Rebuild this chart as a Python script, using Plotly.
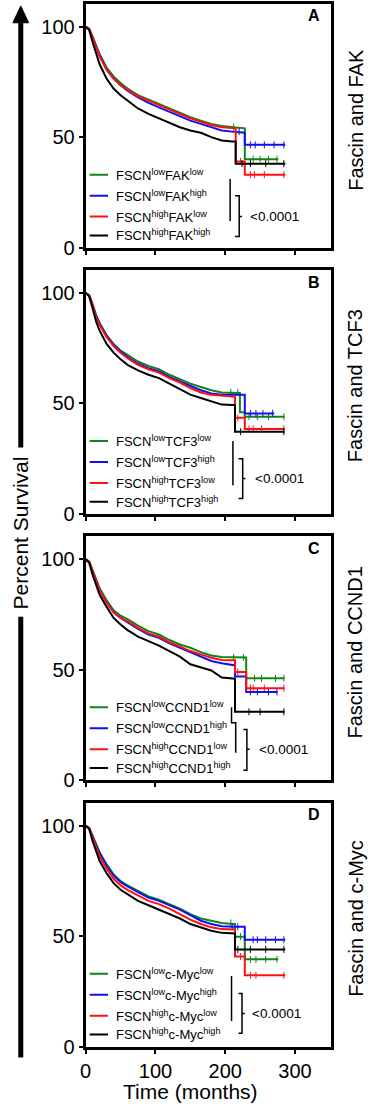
import plotly.graph_objects as go

# ---------------- data ----------------
t_grid = [0, 5, 10, 15, 20, 30, 40, 50, 60, 75, 90, 105, 120, 135, 150, 165, 180, 195, 210]

panel_letters = ["A", "B", "C", "D"]
panel_titles = ["Fascin and FAK", "Fascin and TCF3", "Fascin and CCND1", "Fascin and c-Myc"]
partner_genes = ["FAK", "TCF3", "CCND1", "c-Myc"]
group_keys = ["green", "blue", "red", "black"]
group_fscn = ["low", "low", "high", "high"]
group_partner = ["low", "high", "low", "high"]
p_value_text = "<0.0001"
x_ticks = [0, 100, 200, 300]
y_ticks = [0, 50, 100]
x_title = "Time (months)"
y_title = "Percent Survival"

# Panel A
a_green_t = t_grid + [228, 228, 276]
a_green_s = [100, 99, 95.5, 91, 87.5, 81.5, 77.5, 74.5, 72, 69, 67, 65, 63, 61, 59, 57.5, 56, 55, 54.5, 54, 40, 40]
a_blue_t = t_grid + [228, 228, 286]
a_blue_s = [100, 99, 95, 90.5, 87, 80.5, 76.5, 73.5, 71, 68, 65.5, 63.5, 61.5, 59.5, 57.5, 56, 54.5, 53, 52.5, 52, 46.5, 46.5]
a_red_t = t_grid + [215, 215, 228, 228, 286]
a_red_s = [100, 99, 95, 90.5, 86.5, 80.5, 76.5, 73.5, 71.5, 68.5, 66.5, 64.5, 62.5, 60.5, 58.5, 57, 55.5, 54.5, 54, 54, 39, 39, 33, 33]
a_black_t = t_grid + [215, 215, 286]
a_black_s = [100, 98.5, 93, 87.5, 83, 76.5, 72, 69, 66.5, 63, 60.5, 58.5, 56.5, 54.5, 53, 52, 50, 48.5, 48, 48, 38, 38]
a_green_cens = [212, 240, 250, 262, 274]
a_blue_cens = [220, 236, 243, 256, 270, 284]
a_red_cens = [222, 236, 242, 256, 284]
a_black_cens = [224, 236, 258, 284]

# Panel B
b_green_t = t_grid + [221, 221, 228, 228, 285]
b_green_s = [100, 99, 95, 90, 86.5, 81, 77, 74, 72, 69, 67, 65.5, 63, 61, 59, 57.5, 56, 55, 55, 54.8, 46, 46, 44, 44]
b_blue_t = t_grid + [228, 228, 270]
b_blue_s = [100, 99, 94.5, 89.5, 86, 80.5, 76.5, 73.5, 71, 68, 66, 64.5, 62, 60, 58, 56, 54.5, 54, 54, 54, 45.5, 45.5]
b_red_t = t_grid + [214, 214, 228, 228, 285]
b_red_s = [100, 99, 94.5, 89, 85.5, 80, 76, 73, 70.5, 67.5, 65.5, 64, 61.5, 59.5, 57, 55, 54, 53.5, 53, 53, 43.5, 43.5, 38.5, 38.5]
b_black_t = t_grid + [214, 214, 285]
b_black_s = [100, 98.5, 93, 87, 83, 77, 73, 70, 67.5, 65, 63, 61.5, 59, 56.5, 54, 52.5, 51, 49.5, 49.3, 49.3, 37.2, 37.2]
b_green_cens = [208, 218, 234, 246, 262, 284]
b_blue_cens = [236, 244, 254, 268]
b_red_cens = [218, 234, 240, 252, 284]
b_black_cens = [222, 284]

# Panel C
c_green_t = t_grid + [230, 230, 285]
c_green_s = [100, 99, 95, 91, 87, 81.5, 77, 74.5, 73, 70, 67.5, 66, 63.5, 61.5, 60, 58, 56.5, 55.8, 55.6, 55.6, 46.2, 46.2]
c_blue_t = t_grid + [214, 214, 230, 230, 275]
c_blue_s = [100, 99, 94.5, 90, 86, 80.5, 76, 73.5, 71.5, 68.5, 66, 64.5, 62, 60, 58, 56, 54, 53, 52, 52, 47, 47, 40, 40]
c_red_t = t_grid + [214, 214, 230, 230, 285]
c_red_s = [100, 99, 94.5, 90, 86, 80.5, 76, 73.5, 72, 69, 66.5, 65, 62.5, 60.5, 58.5, 57, 55.5, 54.5, 54.3, 54.3, 49, 49, 41.7, 41.7]
c_black_t = t_grid + [214, 214, 285]
c_black_s = [100, 98.5, 93, 88, 84, 78.5, 73.5, 70.5, 68, 65, 63, 61, 58.5, 56, 52.5, 51, 49.7, 46.5, 46, 46, 31, 31]
c_green_cens = [212, 226, 242, 252, 272, 284]
c_blue_cens = [236, 246, 262, 274]
c_red_cens = [218, 236, 240, 256, 284]
c_black_cens = [234, 250, 284]

# Panel D
d_green_t = t_grid + [214, 214, 228, 228, 276]
d_green_s = [100, 99, 95.5, 91.5, 88, 82.5, 78, 75, 73, 70.5, 68, 66.5, 64.5, 62.5, 60, 58, 57, 56, 55.5, 55.5, 49.8, 49.8, 39.5, 39.5]
d_blue_t = t_grid + [228, 228, 286]
d_blue_s = [100, 99, 95, 91, 87.5, 82, 77.5, 74.5, 72.5, 70, 67.5, 66, 64, 62, 59.5, 57, 55.5, 54.5, 54.3, 54.3, 48.4, 48.4]
d_red_t = t_grid + [214, 214, 228, 228, 286]
d_red_s = [100, 99, 94.5, 90, 86, 80.5, 76, 73, 71, 68.5, 66, 64.5, 62.5, 60, 57.5, 55.5, 54, 53.2, 53, 53, 40.8, 40.8, 32.3, 32.3]
d_black_t = t_grid + [214, 214, 286]
d_black_s = [100, 98.5, 93, 88, 84, 78.5, 74, 71, 69, 66, 64, 62, 60, 58, 55.5, 54, 52.5, 51.5, 51.2, 51.2, 44, 44]
d_green_cens = [208, 222, 236, 244, 258, 274]
d_blue_cens = [210, 218, 240, 246, 258, 272, 284]
d_red_cens = [222, 236, 244, 284]
d_black_cens = [218, 236, 258, 284]

series_t = [
    [a_green_t, a_blue_t, a_red_t, a_black_t],
    [b_green_t, b_blue_t, b_red_t, b_black_t],
    [c_green_t, c_blue_t, c_red_t, c_black_t],
    [d_green_t, d_blue_t, d_red_t, d_black_t],
]
series_s = [
    [a_green_s, a_blue_s, a_red_s, a_black_s],
    [b_green_s, b_blue_s, b_red_s, b_black_s],
    [c_green_s, c_blue_s, c_red_s, c_black_s],
    [d_green_s, d_blue_s, d_red_s, d_black_s],
]
series_cens = [
    [a_green_cens, a_blue_cens, a_red_cens, a_black_cens],
    [b_green_cens, b_blue_cens, b_red_cens, b_black_cens],
    [c_green_cens, c_blue_cens, c_red_cens, c_black_cens],
    [d_green_cens, d_blue_cens, d_red_cens, d_black_cens],
]

# ---------------- styles / layout ----------------
W, H = 368, 1116
FONT = "Arial, Liberation Sans, Helvetica, sans-serif"
colors = {"green": "#13821a", "blue": "#1010f0", "red": "#ff1010", "black": "#000000"}

axis_px = [250, 519, 788, 1057]      # pixel row of y=0 for each panel
Y_RANGE = [0, 110.5]
PX_PER_UNIT = 2.23
X_RANGE = [0, 351]
X_LEFT, X_RIGHT = 81, 330

legend_rows = [33, 23.5, 14, 5.5]
legend_line_x = [5.7, 32]
legend_text_x = 41

# bracket geometry per panel (data coords)
bracket_line = [
    [(207, 31), (207, 12)],
    [(211, 33), (211, 13)],
    [(209, 33), (209, 26), (215, 26), (215, 12.5)],
    [(209, 32), (209, 11.6)],
]
brace = [  # x0, x1, top, bottom, mid, tip, text_x
    (214, 220, 23.5, 5, 14, 224, 233),
    (219, 225, 25, 7, 16, 229, 240),
    (226, 231, 23, 4.5, 14, 235, 245),
    (219, 224, 24, 6, 15, 228, 235),
]


def px_x(p):
    return p / W


def px_y(p):
    return 1 - p / H


def surv_at(ts, ss, c):
    val = ss[0]
    for tt, vv in zip(ts, ss):
        if tt <= c:
            val = vv
    return val


fig = go.Figure()
shapes = []
annotations = []

for i in range(4):
    sfx = "" if i == 0 else str(i + 1)
    xa, ya = "x" + sfx, "y" + sfx
    bottom_px = axis_px[i]
    top_px = bottom_px - (Y_RANGE[1] - Y_RANGE[0]) * PX_PER_UNIT

    for k, key in enumerate(group_keys):
        ts, ss = series_t[i][k], series_s[i][k]
        fig.add_trace(go.Scatter(
            x=ts, y=ss, mode="lines", xaxis=xa, yaxis=ya,
            line=dict(color=colors[key], width=2), showlegend=False, hoverinfo="skip"))
        cens = series_cens[i][k]
        fig.add_trace(go.Scatter(
            x=cens, y=[surv_at(ts, ss, c) for c in cens], mode="markers",
            xaxis=xa, yaxis=ya, showlegend=False, hoverinfo="skip",
            marker=dict(symbol="line-ns", size=5, line=dict(color=colors[key], width=1))))

    axis_common = dict(showline=True, linecolor="black", linewidth=3, mirror=True,
                       showgrid=False, zeroline=False, ticks="outside", ticklen=4,
                       tickwidth=2, tickcolor="black",
                       tickfont=dict(family=FONT, size=20, color="black"))
    fig.layout["xaxis" + sfx] = dict(
        domain=[px_x(X_LEFT), px_x(X_RIGHT)], range=X_RANGE, anchor=ya,
        tickvals=x_ticks, showticklabels=(i == 3), **axis_common)
    fig.layout["yaxis" + sfx] = dict(
        domain=[px_y(bottom_px), px_y(top_px)], range=Y_RANGE, anchor=xa,
        tickvals=y_ticks, **axis_common)

    # legend
    for k, key in enumerate(group_keys):
        shapes.append(dict(type="line", xref=xa, yref=ya,
                           x0=legend_line_x[0], x1=legend_line_x[1],
                           y0=legend_rows[k], y1=legend_rows[k],
                           line=dict(color=colors[key], width=2)))
        label = "FSCN<sup>%s</sup>%s<sup>%s</sup>" % (group_fscn[k], partner_genes[i], group_partner[k])
        annotations.append(dict(xref=xa, yref=ya, x=legend_text_x, y=legend_rows[k],
                                text=label, showarrow=False, xanchor="left", yanchor="middle",
                                font=dict(family=FONT, size=13, color="black")))
    # brackets
    pts = bracket_line[i]
    path = "M " + " L ".join("%g,%g" % p for p in pts)
    shapes.append(dict(type="path", xref=xa, yref=ya, path=path,
                       line=dict(color="black", width=1.5)))
    x0, x1, top, bot, mid, tip, tx = brace[i]
    path2 = "M %g,%g L %g,%g L %g,%g L %g,%g M %g,%g L %g,%g" % (
        x0, top, x1, top, x1, bot, x0, bot, x1, mid, tip, mid)
    shapes.append(dict(type="path", xref=xa, yref=ya, path=path2,
                       line=dict(color="black", width=1.5)))
    annotations.append(dict(xref=xa, yref=ya, x=tx, y=mid, text=p_value_text,
                            showarrow=False, xanchor="left", yanchor="middle",
                            font=dict(family=FONT, size=13.5, color="black")))
    # panel letter
    annotations.append(dict(xref="paper", yref="paper", x=px_x(313), y=px_y(top_px + 12.5),
                            text="<b>%s</b>" % panel_letters[i], showarrow=False,
                            xanchor="center", yanchor="middle",
                            font=dict(family=FONT, size=16, color="black")))
    # right title
    annotations.append(dict(xref="paper", yref="paper", x=px_x(355),
                            y=px_y((top_px + bottom_px) / 2 - 6),
                            text=panel_titles[i], textangle=-90, showarrow=False,
                            xanchor="center", yanchor="middle",
                            font=dict(family=FONT, size=20, color="black")))

# x title
annotations.append(dict(xref="paper", yref="paper", x=px_x(188), y=px_y(1102),
                        text=x_title, showarrow=False, xanchor="center", yanchor="middle",
                        font=dict(family=FONT, size=21, color="black")))
# y title with big arrow
annotations.append(dict(xref="paper", yref="paper", x=px_x(15), y=px_y(538),
                        text=y_title, textangle=-90, showarrow=False,
                        xanchor="center", yanchor="middle",
                        font=dict(family=FONT, size=21, color="black")))
for (ya0, ya1) in [(20, 452), (623, 1068)]:
    shapes.append(dict(type="line", xref="paper", yref="paper",
                       x0=px_x(15), x1=px_x(15), y0=px_y(ya0), y1=px_y(ya1),
                       line=dict(color="black", width=5)))
tri = "M %g,%g L %g,%g L %g,%g Z" % (px_x(7), px_y(23), px_x(15), px_y(6), px_x(23), px_y(23))
shapes.append(dict(type="path", xref="paper", yref="paper", path=tri,
                   fillcolor="black", line=dict(color="black", width=1)))

fig.update_layout(width=W, height=H, margin=dict(l=0, r=0, t=0, b=0),
                  paper_bgcolor="white", plot_bgcolor="white",
                  shapes=shapes, annotations=annotations,
                  font=dict(family=FONT, color="black"))

fig.write_html("out.html", config={"displayModeBar": False, "staticPlot": True},
               post_script="document.body.style.margin='0px';document.body.style.overflow='hidden';")
